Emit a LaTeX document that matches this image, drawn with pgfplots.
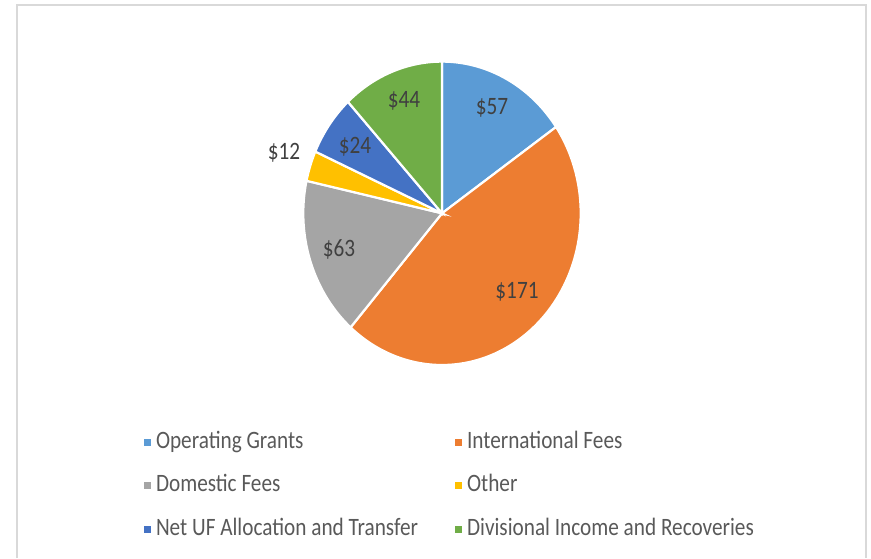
\documentclass[border=0pt]{standalone}
\usepackage{pgfplots}
\pgfplotsset{compat=1.18}
\usepackage{fontspec}
\setmainfont{Carlito}[FakeStretch=0.85]

\definecolor{cOp}{HTML}{5B9BD5}
\definecolor{cIntl}{HTML}{ED7D31}
\definecolor{cDom}{HTML}{A5A5A5}
\definecolor{cOther}{HTML}{FFC000}
\definecolor{cNet}{HTML}{4472C4}
\definecolor{cDiv}{HTML}{70AD47}
\definecolor{labc}{HTML}{404040}
\definecolor{legc}{HTML}{595959}
\definecolor{framec}{HTML}{D9D9D9}

% pie geometry (axis units = pixels of the reference)
\newcommand\cx{442}
\newcommand\cy{344.7}
\newcommand\rx{138.7}
\newcommand\ry{151.7}
\pgfmathsetmacro\tot{57+171+63+12+24+44}
\def\startang{90}

% one slice, clockwise from the previous one: value, colour, legend text
\newcommand\pieslice[3]{%
  \pgfmathsetmacro\endang{\startang-(360/\tot)*#1}%
  \edef\temp{\noexpand\addplot[fill=#2, draw=white, line width=1.1pt,
    domain=\endang:\startang, samples=90]
    ({\cx+\rx*cos(x)},{\cy+\ry*sin(x)}) -- (axis cs:\cx,\cy) -- cycle;}%
  \temp
  \addlegendentry{#3}%
  \global\let\startang\endang
}

\newcommand\chartfont{\fontsize{12.5}{15}\selectfont}

\begin{document}
\begin{tikzpicture}
\begin{axis}[
  scale only axis,
  width=435.5pt, height=279pt,
  xmin=0, xmax=871, ymin=0, ymax=558,
  hide axis, clip=false,
  legend columns=2,
  legend image code/.code={\path[#1, draw=none] (0pt,-1.75pt) rectangle (3.5pt,1.75pt);},
  legend style={at={(axis cs:144,127)}, anchor=north west,
    draw=none, fill=none, inner sep=0pt, outer sep=0pt,
    font=\chartfont, text=legc,
    nodes={inner sep=0pt, text height=8.7pt, text depth=2.7pt},
    cells={anchor=west},
    row sep=10.35pt,
    /tikz/every odd column/.append style={column sep=2.5pt},
    /tikz/every even column/.append style={column sep=18.5pt}},
]
\path (axis cs:0,0) rectangle (axis cs:871,558);
\draw[framec, line width=0.9pt] (axis cs:17,0) -- (axis cs:17,553) -- (axis cs:866,553) -- (axis cs:866,0);

\pieslice{57}{cOp}{Operating Grants}
\pieslice{171}{cIntl}{International Fees}
\pieslice{63}{cDom}{Domestic Fees}
\pieslice{12}{cOther}{Other}
\pieslice{24}{cNet}{Net UF Allocation and Transfer}
\pieslice{44}{cDiv}{Divisional Income and Recoveries}

\begin{scope}[every node/.style={font=\chartfont, text=labc}]
\node at (axis cs:492,450) {\$57};
\node at (axis cs:517,266) {\$171};
\node at (axis cs:339,309) {\$63};
\node at (axis cs:284,405) {\$12};
\node at (axis cs:355,411) {\$24};
\node at (axis cs:404,457) {\$44};
\end{scope}
\end{axis}
\end{tikzpicture}
\end{document}
